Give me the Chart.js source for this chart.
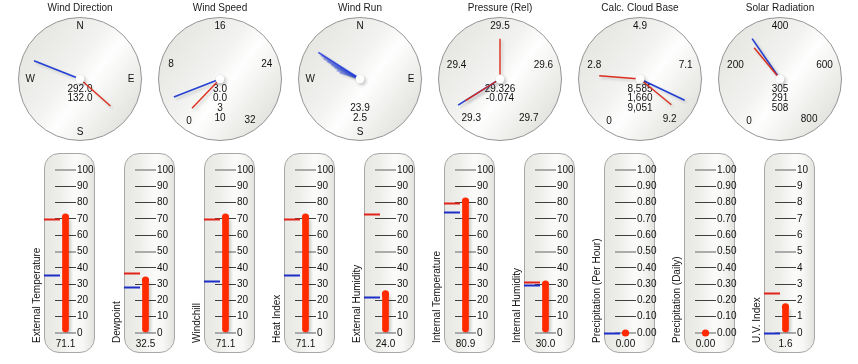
<!DOCTYPE html>
<html><head><meta charset="utf-8">
<script src="https://cdn.jsdelivr.net/npm/chart.js@4.4.1/dist/chart.umd.min.js"></script>
<style>
html,body{margin:0;padding:0;background:#fff;}
body{width:858px;height:364px;position:relative;overflow:hidden;font-family:"Liberation Sans",Arial,sans-serif;}
canvas{position:absolute;}
.panel{position:absolute;top:153px;width:51px;height:200px;box-sizing:border-box;border:1px solid #a8a8a8;border-radius:15px;
 background:linear-gradient(to right,#e7e7e4 0%,#eeeeeb 30%,#fbfbfa 60%,#f7f7f5 78%,#e3e3df 100%);}
.vlabel{position:absolute;top:343px;height:12px;line-height:12px;font-size:10px;color:#111;white-space:nowrap;transform-origin:0 0;transform:rotate(-90deg);}
</style></head>
<body>
<script>
// ---------- DATA ----------
const dialTitles = ['Wind Direction','Wind Speed','Wind Run','Pressure (Rel)','Calc. Cloud Base','Solar Radiation'];
const dialTickLabels = [
  ['N','E','S','W'],
  ['0','8','16','24','32'],
  ['N','E','S','W'],
  ['29.3','29.4','29.5','29.6','29.7'],
  ['0','2.8','4.9','7.1','9.2'],
  ['0','200','400','600','800']
];
const dialReadouts = [
  ['292.0','132.0'],
  ['3.0','0.0','3','10'],
  ['','','23.9','2.5'],
  ['29.326','-0.074'],
  ['8,585','1,660','9,051'],
  ['305','291','508']
];
const dialBlueNeedles = [[292.0],[3.6],[],[29.33],[8.3],[305]];
const dialRedNeedles  = [[132.0],[0.8],[],[29.33,29.5],[8.75,1.87],[291]];
const windRunDirs = [303, 302, 300, 299, 297, 295, 291, 288];
const windRunLens = [0.80, 0.74, 0.68, 0.60, 0.52, 0.46, 0.40, 0.34];

const thermoNames = ['External Temperature','Dewpoint','Windchill','Heat Index','External Humidity','Internal Temperature','Internal Humidity','Precipitation (Per Hour)','Precipitation (Daily)','U.V. Index'];
const thermoValues = [71.1, 32.5, 71.1, 71.1, 24.0, 80.9, 30.0, 0.00, 0.00, 1.6];
const thermoReadouts = ['71.1','32.5','71.1','71.1','24.0','80.9','30.0','0.00','0.00','1.6'];
const thermoHigh = [70.0, 37.0, 70.0, 70.0, 72.8, 79.9, 31.1, null, null, 2.47];
const thermoLow  = [35.6, 28.4, 32.1, 35.6, 22.3, 74.4, 29.4, 0.00, null, 0.0];
const thermoMax = [100,100,100,100,100,100,100,1,1,10];
const thermoDecimals = [0,0,0,0,0,0,0,2,2,0];

// ---------- STYLE / LAYOUT ----------
const FONT = '"Liberation Sans", Arial, sans-serif';
const BLUE = '#2340d4', RED = '#dc2f1e', BAR = '#ff2a00';
const dialCenters = [80, 220, 360, 500, 640, 780];
const dialScale = [
  {min:0,max:360,start:0,sweep:360,closed:true},
  {min:0,max:32,start:-144,sweep:288},
  {min:0,max:360,start:0,sweep:360,closed:true},
  {min:29.3,max:29.7,start:-144,sweep:288},
  {min:0,max:9.2,start:-144,sweep:288},
  {min:0,max:800,start:-144,sweep:288}
];
const BLUE_LEN = 0.8, RED_LEN = 0.66;

function angleOf(i, v){ const s = dialScale[i]; return s.start + (v - s.min)/(s.max - s.min)*s.sweep; }
function tip(angDeg, len){ const a = angDeg*Math.PI/180; return {x: len*Math.sin(a), y: len*Math.cos(a)}; }
function needle(angDeg, len, color, width, order){
  return {data:[{x:0,y:0}, tip(angDeg,len)], showLine:true, borderColor:color, borderWidth:width, pointRadius:0, clip:false, order, shadow:true};
}

const shadowPlugin = {
  id:'shadowP',
  beforeDatasetDraw(chart, args){
    const ds = chart.data.datasets[args.index];
    chart.ctx.save();
    if (ds.shadow){
      chart.ctx.shadowColor = 'rgba(0,0,0,0.18)';
      chart.ctx.shadowBlur = 3;
      chart.ctx.shadowOffsetX = 2;
      chart.ctx.shadowOffsetY = 2;
    }
  },
  afterDatasetDraw(chart){ chart.ctx.restore(); }
};

const dialPlugin = {
  id:'dialP',
  beforeDatasetsDraw(chart){
    const {ctx, scales:{x,y}} = chart;
    const idx = chart.options.dialIndex;
    const cx = x.getPixelForValue(0), cy = y.getPixelForValue(0);
    const R = x.getPixelForValue(1) - cx;
    ctx.save();
    const g = ctx.createLinearGradient(cx - R*0.8, cy - R*0.6, cx + R*0.8, cy + R*0.6);
    g.addColorStop(0,'#e6e6e3'); g.addColorStop(0.4,'#f2f2f0'); g.addColorStop(0.58,'#fefefe');
    g.addColorStop(0.75,'#f3f3f1'); g.addColorStop(1,'#e3e3df');
    ctx.beginPath(); ctx.arc(cx, cy, R - 0.5, 0, Math.PI*2);
    ctx.fillStyle = g; ctx.fill();
    ctx.lineWidth = 1; ctx.strokeStyle = '#959595'; ctx.stroke();
    // tick labels
    const s = dialScale[idx], labs = dialTickLabels[idx];
    const step = s.sweep / (s.closed ? labs.length : labs.length - 1);
    ctx.font = '10px ' + FONT; ctx.fillStyle = '#111';
    ctx.textAlign = 'center'; ctx.textBaseline = 'middle';
    labs.forEach((t, k) => {
      const a = (s.start + k*step)*Math.PI/180;
      const w = ctx.measureText(t).width;
      const r = 54 - 0.45*w*Math.abs(Math.sin(a));
      ctx.fillText(t, x.getPixelForValue(r/R*Math.sin(a)), y.getPixelForValue(r/R*Math.cos(a)) + 0.5);
    });
    // readouts
    dialReadouts[idx].forEach((t, k) => { if (t) ctx.fillText(t, cx, cy + 9.8 + k*9.8); });
    ctx.restore();
  }
};

dialTitles.forEach((title, i) => {
  const c = document.createElement('canvas');
  c.width = 140; c.height = 145;
  c.style.left = (dialCenters[i] - 70) + 'px'; c.style.top = '0px';
  document.body.appendChild(c);
  const ds = [];
  ds.push({data:[{x:0,y:0}], pointRadius:4.5, pointBackgroundColor:'#ffffff', pointBorderColor:'rgba(0,0,0,0.1)', pointBorderWidth:0.5, clip:false, order:0, shadow:true});
  dialRedNeedles[i].forEach(v => ds.push(needle(angleOf(i, v), RED_LEN, RED, 1.4, 1)));
  dialBlueNeedles[i].forEach(v => ds.push(needle(angleOf(i, v), BLUE_LEN, BLUE, 1.6, 2)));
  if (i === 2) {
    windRunDirs.forEach((d, k) => ds.push(needle(angleOf(i, d), windRunLens[k], 'rgba(50,80,240,0.4)', 2, 3)));
    ds.push(needle(angleOf(i, windRunDirs[0]), windRunLens[0], 'rgba(30,55,220,0.85)', 1.1, 2));
  }
  new Chart(c, {
    type:'scatter',
    data:{datasets:ds},
    options:{
      dialIndex:i,
      responsive:false, animation:false, events:[],
      layout:{padding:{left:8,right:8,top:0,bottom:3}},
      plugins:{legend:{display:false}, tooltip:{enabled:false},
        title:{display:true, text:title, color:'#1a1a1a', font:{size:10, family:FONT, weight:'normal'}, padding:{top:2,bottom:4}}},
      scales:{x:{display:false,min:-1,max:1}, y:{display:false,min:-1,max:1}}
    },
    plugins:[dialPlugin, shadowPlugin]
  });
});

// ---------- THERMOMETERS ----------
const thermoPlugin = {
  id:'thermoP',
  afterDatasetsDraw(chart){
    const {ctx, chartArea, scales:{y}} = chart;
    const i = chart.options.thermoIndex;
    ctx.save(); ctx.lineWidth = 2;
    [[thermoHigh[i], '#e2231a'], [thermoLow[i], '#1c2ec8']].forEach(([v, col]) => {
      if (v === null) return;
      const py = Math.round(y.getPixelForValue(v)) + 0.5;
      ctx.strokeStyle = col; ctx.beginPath();
      ctx.moveTo(chartArea.left - 11, py); ctx.lineTo(chartArea.left + 5, py); ctx.stroke();
    });
    ctx.restore();
  }
};

thermoNames.forEach((name, i) => {
  const left = 44 + 80*i;
  const p = document.createElement('div'); p.className = 'panel'; p.style.left = left + 'px';
  document.body.appendChild(p);
  const c = document.createElement('canvas');
  c.width = 80; c.height = 214; c.style.left = (left - 22) + 'px'; c.style.top = '150px';
  document.body.appendChild(c);
  const lab = document.createElement('div'); lab.className = 'vlabel'; lab.textContent = name;
  lab.style.left = (left - 13) + 'px';
  document.body.appendChild(lab);
  const max = thermoMax[i], dec = thermoDecimals[i];
  const isMajor = v => Math.abs(v) < 1e-9 || Math.abs(v - max) < 1e-9 || Math.abs(v - max/2) < 1e-9;
  new Chart(c, {
    type:'bar',
    data:{labels:[thermoReadouts[i]], datasets:[
      {type:'line', data:[thermoValues[i]], showLine:false, pointRadius:3.6, pointBackgroundColor:BAR, pointBorderWidth:0, clip:false, order:0},
      {type:'bar', data:[thermoValues[i]], backgroundColor:BAR, barThickness:6, borderRadius:3, borderSkipped:false, order:1, shadow:true}
    ]},
    options:{
      thermoIndex:i,
      responsive:false, animation:false, events:[],
      layout:{padding:{left:33, right:0, top:20, bottom:0}},
      plugins:{legend:{display:false}, tooltip:{enabled:false}},
      scales:{
        x:{grid:{display:false, drawTicks:false}, border:{display:false},
           ticks:{padding:5, color:'#111', font:{size:10, family:FONT}},
           afterFit(s){ s.height = 31; }},
        y:{position:'right', min:0, max:max,
           ticks:{stepSize:max/10, padding:1, color:'#111', font:{size:10, family:FONT}, callback:v => Number(v).toFixed(dec)},
           grid:{drawTicks:false, color:ctx => isMajor(ctx.tick.value) ? '#ababab' : '#404040', lineWidth:ctx => isMajor(ctx.tick.value) ? 2 : 1},
           border:{display:false},
           afterFit(s){ s.width = 26; }}
      }
    },
    plugins:[thermoPlugin, shadowPlugin]
  });
});
</script>
</body></html>
